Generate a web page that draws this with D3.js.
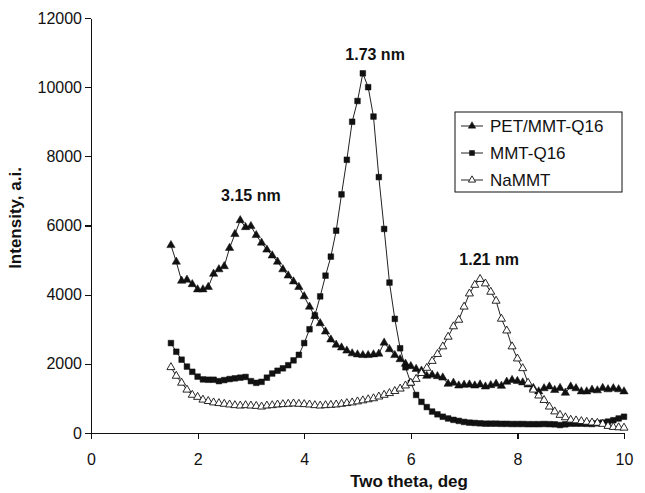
<!DOCTYPE html>
<meta charset="utf-8">
<style>
body { margin: 0; background: #fff; }
text { font-family: "Liberation Sans", Arial, sans-serif; fill: #111; }
.axis path, .axis line { stroke: #111; stroke-width: 1.2px; shape-rendering: crispEdges; }
.axis text { font-size: 16px; }
.title { font-size: 17px; font-weight: bold; }
.ann { font-size: 16px; font-weight: bold; }
.line { fill: none; stroke: #222; stroke-width: 1px; }
</style>
<body>
<script src="https://cdnjs.cloudflare.com/ajax/libs/d3/7.8.5/d3.min.js"></script>
<script>

// two theta sampling (deg)
var twoTheta = [1.5,1.6,1.7,1.8,1.9,2.0,2.1,2.2,2.3,2.4,2.5,2.6,2.7,2.8,2.9,3.0,3.1,3.2,3.3,3.4,
  3.5,3.6,3.7,3.8,3.9,4.0,4.1,4.2,4.3,4.4,4.5,4.6,4.7,4.8,4.9,5.0,5.1,5.2,5.3,5.4,
  5.5,5.6,5.7,5.8,5.9,6.0,6.1,6.2,6.3,6.4,6.5,6.6,6.7,6.8,6.9,7.0,7.1,7.2,7.3,7.4,
  7.5,7.6,7.7,7.8,7.9,8.0,8.1,8.2,8.3,8.4,8.5,8.6,8.7,8.8,8.9,9.0,9.1,9.2,9.3,9.4,
  9.5,9.6,9.7,9.8,9.9,10.0];

// intensities
var petMmt = [5430,4950,4400,4430,4300,4150,4150,4220,4600,4730,4820,5350,5750,6150,5950,5980,5720,5500,5300,5130,
  4950,4730,4550,4380,4220,3950,3650,3380,3170,2930,2700,2550,2470,2380,2300,2270,2250,2250,2270,2290,
  2610,2420,2250,2130,2000,1930,1850,1800,1650,1680,1640,1600,1420,1450,1370,1390,1400,1370,1400,1340,
  1380,1420,1360,1480,1530,1500,1460,1400,1300,1200,1290,1340,1240,1300,1160,1340,1290,1200,1200,1250,
  1230,1300,1260,1290,1260,1200];

var mmtQ16 = [2600,2350,2120,1920,1770,1630,1550,1540,1540,1500,1530,1560,1580,1600,1620,1500,1450,1480,1600,1720,
  1800,1870,1960,2100,2260,2600,3000,3400,3950,4550,5100,5850,6900,7900,9000,9600,10400,10000,9150,7400,
  5900,4350,3300,2450,1900,1450,1100,900,750,620,540,470,420,380,350,320,300,290,280,270,
  270,270,265,265,260,260,260,255,255,255,260,255,250,230,250,270,270,270,265,260,
  280,300,330,370,420,470];

var naMmt = [1900,1650,1450,1250,1100,1040,960,920,880,860,840,820,800,790,800,790,780,760,790,800,
  820,830,840,850,840,830,820,800,790,800,810,820,840,860,880,910,940,970,1000,1050,
  1100,1150,1210,1280,1370,1450,1560,1730,1880,2080,2280,2500,2780,3080,3270,3650,4030,4280,4450,4320,
  4080,3820,3300,2960,2500,2150,1870,1450,1250,1080,950,760,620,520,450,380,360,340,320,300,
  290,260,200,170,160,150];

var seriesNames = ["PET/MMT-Q16", "MMT-Q16", "NaMMT"];
var xTicks = [0, 2, 4, 6, 8, 10];
var yTicks = [0, 2000, 4000, 6000, 8000, 10000, 12000];
var peakLabels = [
  {text: "3.15 nm", x: 3.00, y: 6700},
  {text: "1.73 nm", x: 5.33, y: 10790},
  {text: "1.21 nm", x: 7.47, y: 4860}
];

var width = 645, height = 493;
var margin = {top: 18, right: 21, bottom: 60, left: 91};

var svg = d3.select("body").append("svg")
    .attr("width", width)
    .attr("height", height);

var x = d3.scaleLinear().domain([0, 10]).range([margin.left, width - margin.right]);
var y = d3.scaleLinear().domain([0, 12000]).range([height - margin.bottom, margin.top]);

// axes
svg.append("g")
    .attr("class", "axis")
    .attr("transform", "translate(0," + y(0) + ")")
    .call(d3.axisBottom(x).tickValues(xTicks).tickFormat(d3.format("d"))
      .tickSize(6).tickSizeOuter(0).tickPadding(15));

svg.append("g")
    .attr("class", "axis")
    .attr("transform", "translate(" + x(0) + ",0)")
    .call(d3.axisLeft(y).tickValues(yTicks).tickFormat(d3.format("d"))
      .tickSize(6).tickSizeOuter(0).tickPadding(3));

// axis titles
svg.append("text")
    .attr("class", "title")
    .attr("text-anchor", "middle")
    .attr("x", 409)
    .attr("y", 487)
    .text("Two theta, deg");

svg.append("text")
    .attr("class", "title")
    .attr("text-anchor", "middle")
    .attr("transform", "translate(21,218) rotate(-90)")
    .text("Intensity, a.i.");

// series
var series = [
  {name: seriesNames[0], values: petMmt, shape: d3.symbolTriangle, size: 30, fill: "#111"},
  {name: seriesNames[1], values: mmtQ16, shape: d3.symbolSquare, size: 32, fill: "#111"},
  {name: seriesNames[2], values: naMmt, shape: d3.symbolTriangle, size: 28, fill: "#fff"}
];

var line = d3.line()
    .x(function(d) { return x(d[0]); })
    .y(function(d) { return y(d[1]); });

series.forEach(function(s) {
  var pts = twoTheta.map(function(t, i) { return [t, s.values[i]]; });
  svg.append("path")
      .attr("class", "line")
      .attr("d", line(pts));
});

series.forEach(function(s) {
  var pts = twoTheta.map(function(t, i) { return [t, s.values[i]]; });
  svg.append("g").selectAll("path")
      .data(pts)
    .enter().append("path")
      .attr("transform", function(d) { return "translate(" + x(d[0]) + "," + y(d[1]) + ")"; })
      .attr("d", d3.symbol().type(s.shape).size(s.size))
      .attr("fill", s.fill)
      .attr("stroke", "#111")
      .attr("stroke-width", s.fill === "#fff" ? 0.9 : 0.5);
});

// peak labels
svg.selectAll(".ann")
    .data(peakLabels)
  .enter().append("text")
    .attr("class", "ann")
    .attr("text-anchor", "middle")
    .attr("x", function(d) { return x(d.x); })
    .attr("y", function(d) { return y(d.y); })
    .text(function(d) { return d.text; });

// legend
var legend = svg.append("g").attr("transform", "translate(455,112)");
legend.append("rect")
    .attr("width", 167)
    .attr("height", 80)
    .attr("fill", "#fff")
    .attr("stroke", "#111")
    .attr("stroke-width", 1);

series.forEach(function(s, i) {
  var row = legend.append("g").attr("transform", "translate(0," + (14 + i * 27) + ")");
  row.append("line")
      .attr("x1", 6).attr("x2", 28)
      .attr("stroke", "#222").attr("stroke-width", 1);
  row.append("path")
      .attr("transform", "translate(17,0)")
      .attr("d", d3.symbol().type(s.shape).size(s.size * 0.8))
      .attr("fill", s.fill)
      .attr("stroke", "#111")
      .attr("stroke-width", s.fill === "#fff" ? 0.9 : 0.5);
  row.append("text")
      .attr("x", 35)
      .attr("y", 6)
      .style("font-size", "17px")
      .text(s.name);
});

</script>
</body>
